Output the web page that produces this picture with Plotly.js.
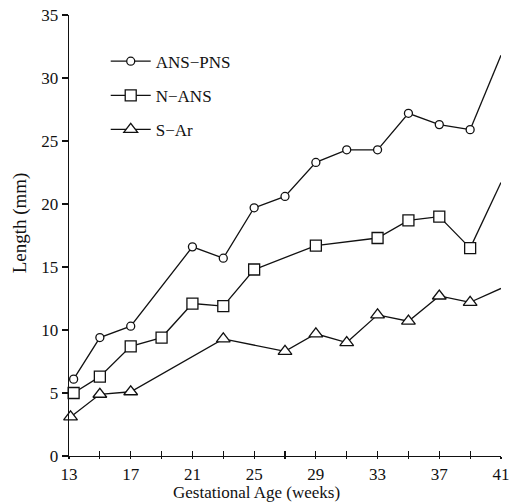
<!DOCTYPE html>
<html>
<head>
<meta charset="utf-8">
<script src="https://cdn.plot.ly/plotly-3.0.1.min.js"></script>
<style>html,body{margin:0;padding:0;background:#fff;}#chart{width:514px;height:504px;}</style>
</head>
<body>
<div id="chart"></div>
<script>
// Gestational age (weeks) and lengths (mm)
const ansPnsAge = [13.3, 15, 17, 21, 23, 25, 27, 29, 31, 33, 35, 37, 39];
const ansPnsLen = [6.1, 9.4, 10.3, 16.6, 15.7, 19.7, 20.6, 23.3, 24.3, 24.3, 27.2, 26.3, 25.9];
const ansPnsEndAge = [39, 41];
const ansPnsEndLen = [25.9, 31.8];

const nAnsAge = [13.3, 15, 17, 19, 21, 23, 25, 29, 33, 35, 37, 39];
const nAnsLen = [5.0, 6.3, 8.7, 9.4, 12.1, 11.9, 14.8, 16.7, 17.3, 18.7, 19.0, 16.5];
const nAnsEndAge = [39, 41];
const nAnsEndLen = [16.5, 21.7];

const sArAge = [13.1, 15, 17, 23, 27, 29, 31, 33, 35, 37, 39];
const sArLen = [3.1, 4.9, 5.1, 9.3, 8.3, 9.7, 9.0, 11.2, 10.7, 12.7, 12.2];
const sArEndAge = [39, 41];
const sArEndLen = [12.2, 13.3];

const xTickVals = [13, 15, 17, 19, 21, 23, 25, 27, 29, 31, 33, 35, 37, 39, 41];
const xTickText = ['13', '', '17', '', '21', '', '25', '', '29', '', '33', '', '37', '', '41'];
const yTickVals = [0, 5, 10, 15, 20, 25, 30, 35];

const serif = 'Liberation Serif, Times New Roman, serif';
const lineStyle = {color: '#111', width: 1.3};

function series(name, x, y, symbol, size, group) {
  return {
    x: x, y: y, name: name, type: 'scatter', mode: 'lines+markers',
    legendgroup: group, cliponaxis: false,
    line: lineStyle,
    marker: {symbol: symbol, size: size, color: '#fff', line: {color: '#111', width: 1.3}}
  };
}
function tail(x, y) {
  return {x: x, y: y, type: 'scatter', mode: 'lines', showlegend: false,
    line: lineStyle, cliponaxis: false, hoverinfo: 'skip'};
}

const traces = [
  tail(ansPnsEndAge, ansPnsEndLen),
  tail(nAnsEndAge, nAnsEndLen),
  tail(sArEndAge, sArEndLen),
  series('ANS−PNS', ansPnsAge, ansPnsLen, 'circle', 8, 'a'),
  series('N−ANS', nAnsAge, nAnsLen, 'square', 11, 'b'),
  series('S−Ar', sArAge, sArLen, 'triangle-up', 12, 'c'),
  {x: [13, 41], y: [0, 0], xaxis: 'x2', type: 'scatter', mode: 'lines',
   line: {width: 0, color: 'rgba(0,0,0,0)'}, showlegend: false, hoverinfo: 'skip'}
];

const layout = {
  width: 514, height: 504,
  margin: {l: 69, r: 13, t: 15, b: 48},
  paper_bgcolor: '#fff', plot_bgcolor: '#fff',
  font: {family: serif, color: '#111', size: 16},
  showlegend: true,
  legend: {
    x: 0.085, y: 0.935, xanchor: 'left', yanchor: 'top',
    bgcolor: 'rgba(0,0,0,0)', font: {family: serif, size: 17, color: '#111'},
    tracegroupgap: 9, itemwidth: 40
  },
  xaxis: {
    range: [13, 41], tickmode: 'array', tickvals: xTickVals, ticktext: xTickText,
    showgrid: false, zeroline: false, showline: true, linecolor: '#111', linewidth: 1.3,
    ticks: 'outside', ticklen: 2, tickwidth: 1.2, tickcolor: '#111',
    tickfont: {family: serif, size: 17}
  },
  xaxis2: {
    range: [13, 41], overlaying: 'x', anchor: 'y', tickmode: 'array', tickvals: xTickVals,
    showticklabels: false, showgrid: false, zeroline: false, showline: false,
    ticks: 'inside', ticklen: 5, tickwidth: 1.2, tickcolor: '#111'
  },
  yaxis: {
    range: [0, 35], tickmode: 'array', tickvals: yTickVals,
    showgrid: false, zeroline: false, showline: true, linecolor: '#111', linewidth: 1.3,
    ticks: 'outside', ticklen: 6, tickwidth: 1.2, tickcolor: '#111',
    tickfont: {family: serif, size: 17}
  },
  annotations: [
    {text: 'Gestational Age (weeks)', xref: 'paper', yref: 'paper', x: 0.435, y: -0.083,
     xanchor: 'center', yanchor: 'middle', showarrow: false,
     font: {family: serif, size: 17, color: '#111'}},
    {text: 'Length (mm)', xref: 'paper', yref: 'paper', x: -0.113, y: 0.528,
     xanchor: 'center', yanchor: 'middle', textangle: -90, showarrow: false,
     font: {family: serif, size: 19, color: '#111'}}
  ]
};

Plotly.newPlot('chart', traces, layout, {displayModeBar: false, staticPlot: true});
</script>
</body>
</html>
